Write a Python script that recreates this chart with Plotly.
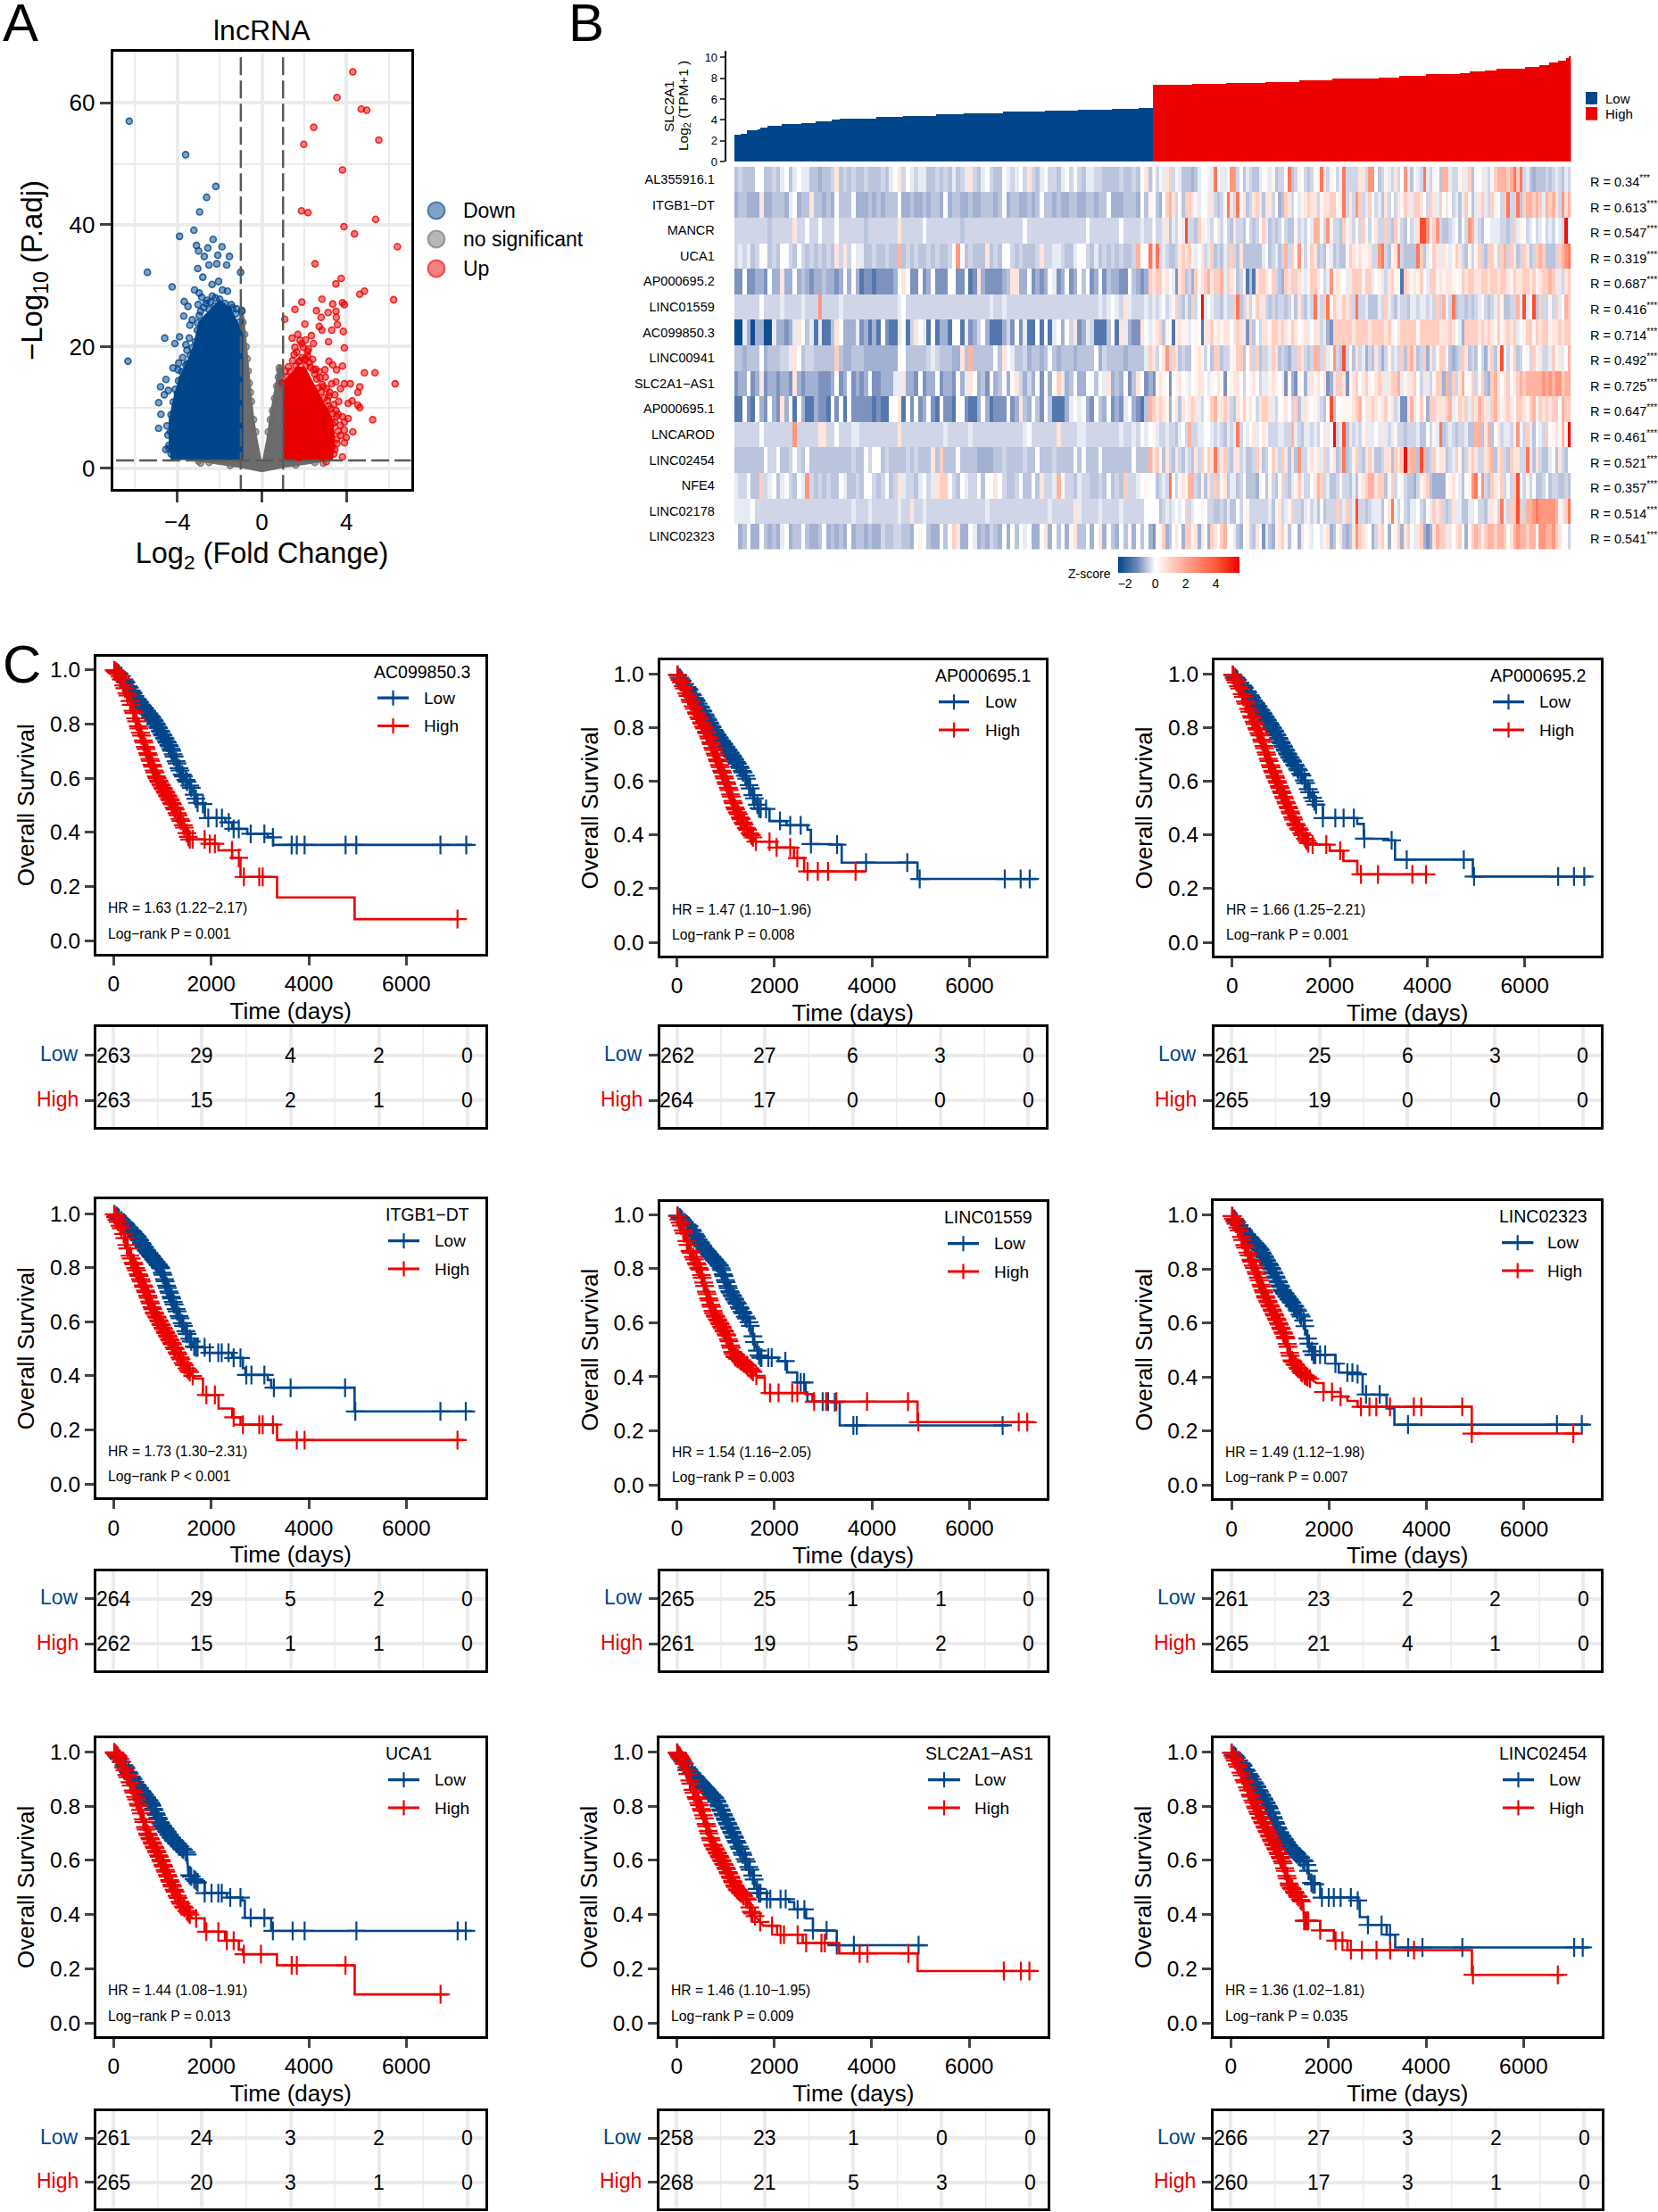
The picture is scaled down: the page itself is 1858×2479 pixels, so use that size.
import numpy as np
import plotly.graph_objects as go

W, H = 1858, 2479
FONT = "Liberation Sans"
NAVY, RED = "#00468B", "#ED0000"
GRID = "#ebebeb"


def X(p):
    return p / W


def Y(p):
    return 1 - p / H


# ---------- Panel A: volcano ----------
down_x = [-6.28, -3.61, -2.18, -2.62, -2.95, -3.22, -3.9, -2.31, -3.1, -2.56, -1.89, -3.0, -2.09, -2.73, -1.54, -5.42, -1.01, -2.51, -2.14, -1.67, -3.04, -2.8, -4.25, -2.05, -2.36, -3.19, -2.97, -1.87, -1.63, -2.6, -3.68, -3.5, -3.02, -1.39, -3.7, -3.41, -4.6, -3.9, -4.12, -3.44, -6.34, -3.94, -4.21, -3.53, -4.54, -4.8, -4.43, -4.62, -4.89, -4.78, -4.89, -4.4,
          -4.07, -4.2, -4.34, -3.97, -4.07, -3.79, -3.97, -3.64, -3.33, -3.15, -3.24, -2.97, -3.06, -2.78, -2.6, -2.97, -2.51, -2.23, -1.87, -1.59, -1.23, -0.95, -1.32, -1.14, -1.41, -1.69, -4.16, -3.97, -4.12, -4.25,
          -4.45, -4.5, -4.3, -4.2, -4.1, -3.95, -3.8, -3.6, -3.4, -3.3, -3.15, -3.05, -2.9, -2.75, -2.45, -2.2, -2.0, -1.75, -1.45, -1.2, -1.05, -3.55, -3.75, -4.0, -4.4, -4.3, -4.55, -2.65, -2.35, -2.85, -3.3, -3.6]
down_y = [57.0, 51.5, 46.3, 44.5, 42.1, 39.1, 38.1, 37.6, 36.6, 36.2, 36.4, 35.7, 35.0, 34.8, 34.8, 32.2, 32.2, 33.4, 33.6, 33.4, 32.8, 31.4, 29.8, 30.7, 30.2, 29.3, 28.8, 29.3, 29.1, 27.6, 27.4, 26.6, 26.9, 26.4, 25.0, 23.5, 21.4, 21.6, 20.5, 21.4, 17.6, 17.3, 16.5, 17.2, 14.6, 13.4, 12.8, 12.1, 10.8, 8.9, 6.6, 3.3,
          7.9, 5.4, 6.0, 11.6, 10.4, 14.7, 16.2, 15.3, 15.9, 17.4, 19.0, 21.1, 22.7, 23.6, 24.8, 25.1, 26.1, 26.7, 26.7, 26.1, 25.4, 25.8, 22.7, 21.4, 23.9, 24.8, 2.0, 2.6, 4.2, 7.0,
          5.5, 7.0, 8.8, 10.9, 13.0, 14.4, 15.9, 17.0, 18.6, 19.8, 20.8, 23.9, 25.8, 26.4, 27.3, 28.0, 27.8, 27.1, 26.9, 26.2, 24.1, 19.4, 18.2, 12.3, 3.8, 2.4, 3.1, 27.1, 28.3, 28.1, 24.4, 20.3]
up_x = [4.3, 3.55, 4.7, 4.96, 2.45, 5.53, 1.98, 3.81, 1.87, 2.18, 5.38, 3.88, 4.38, 6.41, 2.51, 3.75, 3.5, 4.85, 4.63, 6.23, 1.89, 2.84, 3.35, 3.81, 3.9, 1.56, 2.58, 3.5, 3.13, 2.8, 1.08, 3.52, 2.03, 2.71, 3.57, 3.3, 3.85, 2.84, 3.15, 3.9, 2.16, 4.85, 5.35, 6.3, 5.24,
        1.43, 1.7, 1.8, 1.56, 1.89, 2.07, 2.34, 2.44, 1.52, 1.8, 2.07, 2.25, 1.34, 1.7, 2.07, 2.44, 2.71, 3.17, 3.35, 3.53, 3.81, 2.98, 3.5, 3.9, 4.18, 3.72, 4.63, 4.54, 4.27, 4.08, 4.54, 4.63, 3.63, 3.17, 2.89, 3.53, 3.81, 4.08, 3.35, 3.9, 4.3, 3.9, 3.72, 3.53, 3.99, 3.9, 3.81, 3.35, 3.04, 2.25, 1.89, 1.25, 0.97,
        1.1, 1.2, 1.35, 1.5, 1.6, 1.75, 1.9, 2.0, 2.15, 2.3, 2.5, 2.6, 2.75, 2.85, 3.0, 3.05, 3.2, 3.3, 3.4, 3.45, 3.1, 3.25, 3.5, 3.6, 3.7, 3.35, 3.15, 2.95, 2.8, 2.65, 2.55, 2.2, 1.65, 1.45, 1.95, 2.4, 1.25, 3.6, 3.45, 3.55, 3.45, 3.4, 3.2]
up_y = [65.1, 60.9, 59.0, 58.8, 56.0, 53.9, 53.2, 49.0, 42.3, 42.0, 40.9, 39.7, 38.5, 36.4, 33.6, 31.2, 30.3, 29.1, 28.6, 27.7, 27.3, 27.8, 27.0, 27.2, 26.9, 26.1, 25.9, 25.8, 25.6, 24.8, 24.5, 24.8, 23.7, 23.3, 23.6, 22.7, 22.5, 22.7, 20.8, 19.8, 19.2, 15.7, 15.7, 13.9, 8.0,
        21.4, 22.0, 21.0, 19.9, 20.5, 21.1, 21.8, 20.5, 18.7, 17.7, 18.0, 17.4, 15.9, 16.2, 16.8, 16.2, 15.9, 17.6, 17.0, 16.2, 16.8, 16.2, 14.2, 13.9, 13.9, 13.1, 13.4, 12.5, 11.1, 10.7, 10.4, 10.0, 11.0, 11.9, 13.4, 8.5, 8.5, 8.2, 7.3, 7.6, 6.0, 6.3, 5.4, 4.8, 5.1, 4.2, 1.9, 3.6, 1.1, 14.0, 14.0, 14.0, 14.0,
        16.0, 15.0, 14.5, 15.0, 16.8, 17.5, 18.2, 17.9, 18.5, 16.6, 15.5, 14.7, 14.9, 13.8, 15.0, 13.1, 12.5, 13.9, 10.5, 12.1, 11.2, 9.8, 9.5, 8.9, 7.1, 9.0, 10.2, 11.6, 12.6, 13.2, 16.3, 19.6, 19.1, 17.7, 19.9, 17.9, 16.7, 6.1, 7.6, 4.1, 3.1, 2.4, 2.0]
ns_x = [-0.95, -0.9, -0.82, -0.75, -0.7, -0.65, -0.6, -0.55, -0.5, -0.4, -0.3, 0.3, 0.4, 0.5, 0.6, 0.7, 0.78, 0.82, 0.85, -3.0, -2.5, -2.9, 2.9, 2.5, -1.5, 1.6]
ns_y = [26.0, 24.0, 22.0, 20.0, 18.0, 16.0, 14.0, 12.5, 11.0, 8.0, 6.0, 6.0, 8.0, 9.5, 11.5, 13.5, 15.0, 16.5, 16.0, 1.2, 1.0, 0.9, 0.9, 1.0, 0.5, 0.6]
# dense cores of the three clouds, outlined where single points can't be told apart
down_core_x = [-4.25, -4.35, -4.35, -4.1, -3.85, -3.5, -3.2, -2.95, -2.4, -2.0, -1.5, -1.2, -0.95, -0.95]
down_core_y = [1.4, 4.0, 8.0, 12.0, 15.0, 17.5, 20.0, 24.0, 26.0, 27.5, 26.0, 24.0, 22.0, 1.4]
up_core_x = [1.0, 3.3, 3.4, 3.3, 3.0, 2.7, 2.4, 2.0, 1.7, 1.3, 1.0]
up_core_y = [1.4, 1.5, 5.0, 8.0, 10.0, 12.0, 14.0, 16.5, 16.5, 15.0, 14.0]
ns_core_x = [-1, -1, -0.9, -0.78, -0.68, -0.55, -0.42, -0.28, -0.12, -0.05, 0.05, 0.12, 0.28, 0.42, 0.6, 0.75, 0.85, 1, 1, 3, 2, 1, 0, -1, -2, -3, -1]
ns_core_y = [1.3, 26, 25, 21, 17, 12, 8, 5, 2.2, 0.8, 0.8, 2.2, 5, 8.5, 12, 15.5, 17, 14, 1.3, 1.3, 0.8, 0.3, -0.4, 0.3, 0.8, 1.3, 1.3]

# ---------- Panel B: expression bars ----------
low_rank = [0, 4, 8, 15, 16, 21, 30, 42, 51, 61, 66, 89, 106, 127, 144, 169, 195, 216, 237, 254, 263]
low_expr = [2.5, 2.6, 3.0, 3.07, 3.25, 3.4, 3.55, 3.65, 3.8, 3.97, 4.1, 4.25, 4.37, 4.47, 4.62, 4.77, 4.84, 4.9, 5.0, 5.08, 5.15]
high_rank = [263, 271, 288, 309, 334, 355, 376, 405, 418, 435, 456, 462, 472, 479, 497, 506, 512, 518, 523, 525, 526]
high_expr = [7.3, 7.37, 7.44, 7.55, 7.62, 7.76, 7.9, 8.05, 8.23, 8.34, 8.45, 8.6, 8.74, 8.88, 9.06, 9.25, 9.46, 9.68, 9.93, 10.1]

# ---------- Panel B: heatmap, one letter per sample bin ----------
genes = ["AL355916.1", "ITGB1\u2212DT", "MANCR", "UCA1", "AP000695.2", "LINC01559", "AC099850.3", "LINC00941", "SLC2A1\u2212AS1", "AP000695.1", "LNCAROD", "LINC02454", "NFE4", "LINC02178", "LINC02323"]
r_values = ["0.34", "0.613", "0.547", "0.319", "0.687", "0.416", "0.714", "0.492", "0.725", "0.647", "0.461", "0.521", "0.357", "0.514", "0.541"]
z_levels = dict(A=-2.3, B=-1.5, C=-1.08, D=-0.78, E=-0.58, F=-0.4, G=-0.2, H=0, I=0.25, J=0.6, K=1.1, L=1.7, M=2.4, N=3.2, O=4.2, P=5.3)

heat_low = [
    "EFEEEHHEEF EGHEGHGGEE DEEFJEFEFE EFEEEFEGHJ FHGFGGEEFE FEGEFGJFEG HFEEHGFGHF JFEGHFFEGH FHFEGGFFEE EEFEEFEHJE",
    "DEEDDDJDDE EEDGHDEEJE EDEDHEEEHD DDEDEDEEEH DDEDDEDEED HDEEDDEDDE EEDEHDEEDD EDEHEEDEDD EEDDEEDEEH DDDEEEDHEI",
    "FFFFFFFFEF FFFFJFFHFF HFFFHFFFFF FEFFFFFFFJ FFFFFHFFFF FFFFEFFFFF FFFFFFFFFH FFFFFFFFFF FFFFHFFFFF FFHFFFFGFF",
    "FGFGEFHHEF EHHFEHFEFE FEFEJFJFHG GEEFEEFEEL EFEFEEFEFE EFHMHEFEEE JEFEHHFEFE EEFJFFGGFE EGHHFEGEFE FEFEEFLHHN",
    "CCHCCDDCHD DJDDHDEDCD DEDDCDHDHD BCCBCCCCDH JHCCHCDHCC CHHCCHBCJD CCCCDEJJDD HCDCDHGCDH CDHEHCDHCE DDCCHEDCDK",
    "FFFFFFHFFF FGFFFFGFFF MFFFFGFFFF FFFFFFFFFG HFFFFFFFFF FFFFFFFFFF FGFFGFFFFF FFFFFFFFFF FFFFFFFGFG HGFJGFFFGF",
    "AAGDADDAAG DDCDGJHEGB GBBEJHDDDG CDBDBHCBBG HBFJHGBHBD DBHHBGCDFH DBBBDFCHCG BBHBHBGHDH FJCDGFBBBE HBJGDCCJHG",
    "EEDEEEHDEE EFFGJHEFFE EEEEKEDDEE EDDDDDDDDH HEEEEEFGFE EEDDJELEEE EEHEJHGEEF DEEDEHEDEE EDEEEEHDFE EEEDEEEEGK",
    "CDDHCDJCDD CDDCJDCDDD CCCDHCDHCD CDHCCDDDGG JDDCHCDDHC DDCHDGJHDE CHDEHDHJFD FDHCHDHKGD EHDDHHEHGJ DEDHCEJHCD",
    "BBHCBHDCHD CJDHBHDBBD CCBHCHBHCC CCCBCBBHHJ BHCHCDHCBH CCBHHCBBDH DBCCCHCDJE DHECHEBBBD GHGHDCHEDH CDCGHDCBEL",
    "FFFFFFHFFF FFFFMFFFFF JJFFHFFFGG FFFFFFFFFJ FFFFFFFFFF GFFFFFGFFF FFFFFFFFFG HFFFFFFJFF FFGGFFFFFF FFGFFGFHGH",
    "EEEEEEEHFF HEEFHFEHEE EEEEEEEEFE EHFHHEFEEE EFEFEEEJEK EEEHEEEEDD DDEEFEEEEF EEHEEEFEEE EHEHEEEHEE EEEEEHEEEL",
    "GFFHEEKFGH EGHFEHGMFE FEFEEHGEEF EHHFEFHEFJ GFFEGHFGJK KHFEHGFFHE HHJHFEEFHE EHEJFFGLHF FEGFFEEFEH EFEKFFGHIH",
    "GGGGHFFFFF FFFFFFFFFF FFFFFFFFGF FFGFFFFFFG FFJFFGFFFF FFFFFFFFFF GFFFFFFFFF FFFFFGFFFF FJGFFFFGFF FFGFFFFFHH",
    "HDEHDDHEDE DGHDEEHEDD EHDEDEDHDE EDEDDFEEFF EEDHIHEDDH EHKJDDHGDE DFEDHDHEHG HDDHJDHEHD IJEEHDHJDH EDHEIDHEHD",
]
heat_high = [
    "HFIGJKFIGE EEDEGHHIGN HGGIMMFHEG FEEGHIGIEF FHNEFIHFEF HINJFIHFIN FFFFJJFMMH EFIGFJFHMG EIGFNGFIHE LLGFFIJGKE IHJGFIKLLL KLNKNFGEDE EEFEFGFEGF",
    "HEDHKLJFHE KKJIGHHGJF EFINJFNIJE FJKGEJJFHD EKJFHGIJKJ JFIJJKKIIN FJFMKFGKHF GEJFHFJIKJ GKKJHFKJGK HJHFGEGKIE GJKGFKIHFK NFFNEKLLKL KGLKLJFMJL",
    "HFFGJEGFIG OFFEKIIGFH JFHFEJFFEH FEFHKGEFEF HFEEIFGFHG LLHFMIFFEK IJFHFKHFHJ FFKFEKIFEH FGJOOMGKMF EEFGHEHFML GFEHHGGGFF EFKGIHFGHF GHFGFHGFPH",
    "GNFGFEEFJK JKIGHJFGKE FEGFKFEJEE EEEEGHEFGE FLFKIMIFHK JEFEIGEFEE IKJIJIIJFF MNFEIJNFEE EENKEGHKJG JIGIKJFEIF IKFEKKIFKL FKJEFKJEFK LKEEEFKLMN",
    "JKKIJHGCJK EFDKIJKLJK KLGKJIEFIB EBJKKJIKFE DKJKKJIGIK KJHFGMIJIH GJKKKIKKGH IGFJKIHBKJ IJIKHGKKIJ IJJIHIKJKK JJKKJKKJKK JIKJJKKJKI JKKLKJGFJK",
    "GFGHFGIKFE GEKFHPGHGF FEGFFKNEFJ FIKGJFEFEF FEFIEJFEGF NGFKNIKJIK JKFNFFGEEE GFKGFEGFFE GGFGGFGFKF LIFNEFFEFE FGIFEFGKIE EFFLGOGHOE KFFIFKGHLK",
    "IJKEIHBIJI IGHIHBJJKI JIJJHGKJGC KEHFJJIKKJ KJIKJHIJGH JJFGDCKKKK KKJKKKKJKK KKJKIHJKKK KKIKKKKKKJ JJKJHGDKKK KJKJKJIKIJ KJKGHIKKIK JKKIJJKJKK",
    "JFHJMFKJEF EEHIJIFHEK KEFFIIKKEH KFKEFFGKJE FEDFFKJFEF LLFKGIMFEO FIEJFGDFEJ FDFIFGFKEK LJEFKDJFIK KIEDEFKJEF EHFDGKEIOH FIKEFHIFKI JFFGKHJGHL",
    "CIJIHCHIJH IGHIJJHGIH JHCHIJJHFH IJHFGGIJIH JCHDCIHDGJ IJHJCDJKKJ CIJKHJKIHJ KJGJKKLGIJ JKHFJGFIKK DLEKFJLHIK FIKEDKLJHJ KHJKLKLLLL LMLMLMMKLL",
    "KJKJIDHJEJ HJKJGFHIKL IJKJFEJIKI JHFJKKJGFH IJHFKEGJIH IGFEHOEHHI IIJKLHJJKJ IGKIJFGCCJ LJHKHDKKJJ JKLGIKJKGK JLKJGKLJIJ KJHKKJIKLI KJKJKKHLKK",
    "IGFFGFFEGH FLFFGGHHGF GFEGFGNFHG HJGHJIFFFG GFFLGFEGGF GFHJGIPFGO EJFGFIJGGH GJGFGIFFEF FFGEEHFIGN EFGFEFFGEE LLEJLEHJFG GFIMHFKGEH GFKHIJHLIP",
    "JKIEJFEJFE GFEJFKIKJN FJKFEJJFGE EFKIEFHKGF KJEJEMFFIJ IJGKFIJEFN EFIKFEJKGE EFJJEKJKPK LLEOLEFKIJ JEFGKIEFJK JFFJKLEJKF EKJJFFNGEJ FEEGHEJFEH",
    "HEFGFNHFIJ ILLFEIEJFK FIJEGGEFHE EEDIHEIFEH KFEGIKIFFH JLKFGEEFIF FEGEIJKLLJ KKEIKFHIFE EDFIJKEDDD DHIJHGEHIM NIMFEKJIKF IFKOHFIFHE EFHEFFEEFE",
    "HHEFGFGHGH KFGHHIHFFE EFEGEEHFHI FFFFFFGEIJ FGIKFFEGIF GEHEFFFKFG KFGOFFEFGG GEHJNIFHFE GGHFEHGKJK FEFJGGEEGG HFFEGJIFNG FKKOKFLLMN MMMMMLIGKN",
    "CHIKDEHJHD KKIJDJHDKJ HKLHHGEDHI FEJHCGEDIJ KIEIHDJHIG HHGIJDEHJE DEJMKJIHDF JKHDHIKDJK HGJKDCDJLK KGJHJKHDIK LKIKLLKLLK HJLMLLKLLH MMLLMKJHHF",
]

# ---------- Panel C: Kaplan-Meier curves (days, survival) ----------
censor_low_early = [20, 60, 85, 110, 160, 210, 235, 250, 300, 320, 360, 380, 400, 435, 470, 490, 520, 535, 570, 590, 620, 635, 665, 680, 710, 725, 755, 770, 785, 815, 830, 860, 875, 905, 920, 950, 965, 995, 1010, 1040, 1055, 1085, 1100, 1130, 1145, 1175, 1190, 1220, 1240, 1280, 1300, 1340, 1360, 1405, 1430, 1480, 1505, 1560, 1590, 1650, 1685, 1720]
censor_high_early = [10, 40, 65, 90, 130, 155, 205, 230, 270, 290, 335, 360, 400, 415, 450, 470, 505, 520, 550, 570, 605, 620, 650, 665, 695, 710, 740, 755, 785, 800, 830, 845, 875, 890, 920, 935, 965, 980, 1010, 1025, 1055, 1070, 1100, 1115, 1145, 1160, 1190, 1205, 1240, 1260, 1300, 1320, 1360, 1380, 1425, 1450, 1500, 1530, 1560]

ac099_low_t = [0, 150, 470, 820, 1170, 1380, 1590, 1730, 1870, 2290, 2430, 2740, 3160, 3270, 7350]
ac099_low_s = [1, 0.98, 0.894, 0.815, 0.71, 0.62, 0.565, 0.505, 0.453, 0.437, 0.413, 0.395, 0.382, 0.354, 0.354]
ac099_high_t = [0, 120, 330, 470, 680, 890, 1170, 1380, 1480, 1550, 1870, 2150, 2430, 2600, 3350, 4940, 7080]
ac099_high_s = [1, 0.98, 0.888, 0.81, 0.7, 0.6, 0.516, 0.443, 0.407, 0.374, 0.358, 0.334, 0.306, 0.236, 0.16, 0.08, 0.08]
ac099_low_c = [1830, 1940, 2110, 2220, 2360, 2460, 2565, 2810, 3090, 3265, 3650, 3755, 3915, 4755, 4975, 6700, 7230]
ac099_high_c = [1620, 1865, 1970, 2075, 2425, 2565, 2670, 2985, 3055, 7050]

ap1_low_t = [0, 210, 490, 775, 1130, 1410, 1550, 1690, 1900, 2250, 2680, 2750, 3170, 3380, 4935, 7370]
ap1_low_s = [1, 0.951, 0.874, 0.785, 0.696, 0.619, 0.552, 0.497, 0.452, 0.436, 0.419, 0.366, 0.364, 0.297, 0.236, 0.236]
ap1_high_t = [0, 140, 350, 635, 846, 1058, 1200, 1410, 1620, 2045, 2400, 2610, 3880]
ap1_high_s = [1, 0.951, 0.874, 0.774, 0.674, 0.574, 0.497, 0.43, 0.375, 0.353, 0.314, 0.264, 0.264]
ap1_low_c = [1830, 2115, 2325, 2540, 2750, 3285, 3880, 4725, 4980, 6725, 7050, 7235]
ap1_high_c = [1620, 1900, 2045, 2325, 2470, 2680, 2890, 3100, 3665]

ap2_low_t = [0, 240, 590, 875, 1156, 1440, 1580, 1720, 1860, 2565, 2700, 3200, 3340, 4935, 7360]
ap2_low_s = [1, 0.951, 0.863, 0.785, 0.696, 0.619, 0.563, 0.513, 0.463, 0.441, 0.386, 0.38, 0.308, 0.245, 0.245]
ap2_high_t = [0, 170, 380, 590, 800, 1085, 1300, 1580, 2000, 2280, 2566, 4020]
ap2_high_s = [1, 0.94, 0.851, 0.763, 0.652, 0.53, 0.441, 0.364, 0.341, 0.303, 0.253, 0.253]
ap2_low_c = [1860, 2115, 2285, 2495, 2710, 3270, 3580, 4750, 4960, 6685, 7010, 7220]
ap2_high_c = [1650, 1930, 2215, 2640, 2990, 3695, 3975]

itgb_low_t = [0, 190, 470, 680, 960, 1100, 1240, 1380, 1520, 1660, 1870, 2430, 2650, 2700, 3160, 3230, 4940, 7350]
itgb_low_s = [1, 0.97, 0.917, 0.862, 0.8, 0.725, 0.664, 0.604, 0.549, 0.505, 0.485, 0.466, 0.428, 0.403, 0.384, 0.356, 0.268, 0.268]
itgb_high_t = [0, 190, 330, 470, 680, 820, 1030, 1240, 1450, 1660, 1830, 2150, 2430, 2600, 3350, 7180]
itgb_high_s = [1, 0.934, 0.846, 0.79, 0.703, 0.637, 0.571, 0.505, 0.439, 0.39, 0.329, 0.279, 0.246, 0.219, 0.162, 0.162]
itgb_low_c = [1865, 1970, 2145, 2215, 2355, 2460, 2600, 2720, 2825, 3090, 3285, 3628, 4745, 4955, 6700, 7220]
itgb_high_c = [1620, 1900, 2075, 2460, 2650, 2985, 3055, 3265, 3755, 3915, 7050]

l1559_low_t = [0, 265, 545, 895, 1070, 1314, 1490, 1594, 1700, 2083, 2258, 2468, 2640, 2677, 3166, 3340, 6800]
l1559_low_s = [1, 0.954, 0.88, 0.807, 0.721, 0.648, 0.599, 0.526, 0.471, 0.458, 0.416, 0.379, 0.342, 0.308, 0.306, 0.22, 0.22]
l1559_high_t = [0, 160, 265, 475, 615, 755, 1035, 1174, 1454, 1664, 1803, 2642, 2780, 4935, 7325]
l1559_high_s = [1, 0.929, 0.868, 0.795, 0.709, 0.636, 0.55, 0.477, 0.44, 0.397, 0.34, 0.336, 0.308, 0.232, 0.232]
l1559_low_c = [1735, 1875, 1945, 2225, 2540, 2610, 2990, 3100, 3240, 3620, 3690, 6680]
l1559_high_c = [1630, 1910, 2085, 2365, 2470, 2815, 3060, 3270, 3900, 4740, 4950, 7010, 7185]

l2323_low_t = [0, 280, 560, 840, 1050, 1330, 1480, 1573, 1678, 2132, 2200, 2586, 2690, 3145, 3180, 3341, 7325]
l2323_low_s = [1, 0.934, 0.879, 0.796, 0.719, 0.653, 0.609, 0.531, 0.482, 0.449, 0.416, 0.41, 0.335, 0.333, 0.283, 0.223, 0.223]
l2323_high_t = [0, 140, 280, 490, 700, 910, 1118, 1223, 1468, 1747, 1887, 2237, 2377, 2586, 4928, 7130]
l2323_high_s = [1, 0.95, 0.884, 0.796, 0.697, 0.62, 0.542, 0.465, 0.41, 0.377, 0.344, 0.327, 0.311, 0.289, 0.19, 0.19]
l2323_low_c = [1817, 1922, 2132, 2377, 2480, 2586, 2760, 3040, 3620, 6675, 7185]
l2323_high_c = [1608, 1887, 2062, 2237, 2656, 2830, 2970, 3250, 3740, 3893, 4732, 4928, 7010]

uca_low_t = [0, 190, 470, 750, 960, 1237, 1503, 1530, 1726, 1866, 2320, 2635, 2690, 3160, 3230, 7350]
uca_low_s = [1, 0.956, 0.879, 0.814, 0.737, 0.671, 0.627, 0.55, 0.518, 0.479, 0.463, 0.452, 0.388, 0.386, 0.34, 0.34]
uca_high_t = [0, 120, 330, 540, 680, 958, 1167, 1377, 1622, 1866, 2286, 2565, 2650, 3348, 4942, 6843]
uca_high_s = [1, 0.978, 0.89, 0.792, 0.704, 0.605, 0.518, 0.441, 0.386, 0.337, 0.304, 0.271, 0.254, 0.213, 0.106, 0.106]
uca_low_c = [1866, 2006, 2146, 2216, 2390, 2600, 2810, 3090, 3265, 3670, 3915, 4977, 7053, 7220]
uca_high_c = [1690, 1900, 2146, 2320, 2460, 2670, 3020, 3650, 3755, 4753, 6703]

slc_low_t = [0, 245, 524, 804, 1013, 1223, 1433, 1573, 1678, 1852, 2307, 2412, 2656, 2796, 3180, 3285, 5103]
slc_low_s = [1, 0.934, 0.879, 0.825, 0.748, 0.671, 0.594, 0.539, 0.479, 0.457, 0.446, 0.419, 0.386, 0.342, 0.34, 0.287, 0.287]
slc_high_t = [0, 175, 315, 524, 734, 1013, 1223, 1468, 1517, 1782, 2062, 2586, 3334, 4942, 7375]
slc_high_s = [1, 0.951, 0.868, 0.781, 0.66, 0.572, 0.496, 0.452, 0.413, 0.359, 0.326, 0.295, 0.257, 0.192, 0.192]
slc_low_c = [1852, 1922, 2132, 2237, 2482, 2621, 2796, 3076, 3285, 3635, 4963]
slc_high_c = [1608, 1713, 1957, 2132, 2202, 2482, 2656, 2970, 3040, 3754, 3914, 4753, 6710, 7060, 7235]

l2454_low_t = [0, 224, 503, 783, 993, 1202, 1552, 1657, 1831, 2600, 2642, 2810, 3194, 3369, 7354]
l2454_low_s = [1, 0.956, 0.879, 0.792, 0.704, 0.649, 0.589, 0.512, 0.463, 0.452, 0.391, 0.362, 0.326, 0.279, 0.279]
l2454_high_t = [0, 154, 363, 573, 783, 1062, 1202, 1482, 1496, 1831, 2110, 2390, 4942, 6829]
l2454_high_s = [1, 0.945, 0.857, 0.77, 0.693, 0.594, 0.507, 0.441, 0.377, 0.342, 0.304, 0.269, 0.178, 0.178]
l2454_low_c = [1866, 2006, 2110, 2250, 2460, 2600, 2810, 3090, 3264, 3635, 3928, 4746, 7039, 7214]
l2454_high_c = [1587, 1831, 2146, 2286, 2460, 2684, 2985, 3264, 3754, 4963, 6703]

risk_times = [0, 1, 2, 3, 4]
panels = [
    dict(gene="AC099850.3", hr="HR = 1.63 (1.22\u22122.17)", p="Log\u2212rank P = 0.001", low=(ac099_low_t, ac099_low_s, ac099_low_c), high=(ac099_high_t, ac099_high_s, ac099_high_c), risk=([263, 29, 4, 2, 0], [263, 15, 2, 1, 0])),
    dict(gene="AP000695.1", hr="HR = 1.47 (1.10\u22121.96)", p="Log\u2212rank P = 0.008", low=(ap1_low_t, ap1_low_s, ap1_low_c), high=(ap1_high_t, ap1_high_s, ap1_high_c), risk=([262, 27, 6, 3, 0], [264, 17, 0, 0, 0])),
    dict(gene="AP000695.2", hr="HR = 1.66 (1.25\u22122.21)", p="Log\u2212rank P = 0.001", low=(ap2_low_t, ap2_low_s, ap2_low_c), high=(ap2_high_t, ap2_high_s, ap2_high_c), risk=([261, 25, 6, 3, 0], [265, 19, 0, 0, 0])),
    dict(gene="ITGB1\u2212DT", hr="HR = 1.73 (1.30\u22122.31)", p="Log\u2212rank P < 0.001", low=(itgb_low_t, itgb_low_s, itgb_low_c), high=(itgb_high_t, itgb_high_s, itgb_high_c), risk=([264, 29, 5, 2, 0], [262, 15, 1, 1, 0])),
    dict(gene="LINC01559", hr="HR = 1.54 (1.16\u22122.05)", p="Log\u2212rank P = 0.003", low=(l1559_low_t, l1559_low_s, l1559_low_c), high=(l1559_high_t, l1559_high_s, l1559_high_c), risk=([265, 25, 1, 1, 0], [261, 19, 5, 2, 0])),
    dict(gene="LINC02323", hr="HR = 1.49 (1.12\u22121.98)", p="Log\u2212rank P = 0.007", low=(l2323_low_t, l2323_low_s, l2323_low_c), high=(l2323_high_t, l2323_high_s, l2323_high_c), risk=([261, 23, 2, 2, 0], [265, 21, 4, 1, 0])),
    dict(gene="UCA1", hr="HR = 1.44 (1.08\u22121.91)", p="Log\u2212rank P = 0.013", low=(uca_low_t, uca_low_s, uca_low_c), high=(uca_high_t, uca_high_s, uca_high_c), risk=([261, 24, 3, 2, 0], [265, 20, 3, 1, 0])),
    dict(gene="SLC2A1\u2212AS1", hr="HR = 1.46 (1.10\u22121.95)", p="Log\u2212rank P = 0.009", low=(slc_low_t, slc_low_s, slc_low_c), high=(slc_high_t, slc_high_s, slc_high_c), risk=([258, 23, 1, 0, 0], [268, 21, 5, 3, 0])),
    dict(gene="LINC02454", hr="HR = 1.36 (1.02\u22121.81)", p="Log\u2212rank P = 0.035", low=(l2454_low_t, l2454_low_s, l2454_low_c), high=(l2454_high_t, l2454_high_s, l2454_high_c), risk=([266, 27, 3, 2, 0], [260, 17, 3, 1, 0])),
]
# layout in page pixels: box left, box right, x of t=0, box top, box bottom, y of S=1, y of S=0,
# risk box top, risk bottom, legend title left, legend line left, legend line right, legend text left
geom = [
    (108, 543.5, 127.4, 735.5, 1069, 750.7, 1054.4, 1151.4, 1263, 418, 423, 458, 474),
    (739.5, 1172, 758.5, 740, 1071, 755.3, 1056, 1151.4, 1263, 1047, 1052, 1086, 1103),
    (1361, 1793.5, 1380.8, 740, 1071, 755.3, 1056, 1151.4, 1263, 1669, 1673, 1708, 1724),
    (108, 543.5, 127.4, 1344, 1678.3, 1360, 1663, 1760.5, 1872, 430.5, 435, 470, 486),
    (739.5, 1172.6, 758.5, 1347, 1678.5, 1361.4, 1664, 1760.5, 1872, 1057.4, 1062, 1097, 1112.5),
    (1360.2, 1794.2, 1380, 1346, 1679.3, 1361.7, 1664, 1760.5, 1872, 1678.6, 1683, 1718.4, 1733.4),
    (108, 543.5, 127.4, 1948, 2281.7, 1963.3, 2267.3, 2365.6, 2474.7, 430.5, 435, 470, 486),
    (738.7, 1174, 758.2, 1948, 2281.7, 1963.3, 2267.3, 2365.6, 2474.7, 1035.7, 1040, 1076, 1091),
    (1359.8, 1795, 1379.4, 1948, 2281.7, 1963.3, 2267.3, 2365.6, 2474.7, 1679.4, 1684, 1719, 1734.5),
]

fig = go.Figure()
layout = dict(
    width=W, height=H, margin=dict(l=0, r=0, t=0, b=0, pad=0), autosize=False,
    paper_bgcolor="white", plot_bgcolor="white", showlegend=False,
    font=dict(family=FONT, color="black", size=14),
)
annotations, shapes = [], []


def text(x, y, s, size, anchor="left", color="black", angle=0, v="middle"):
    annotations.append(dict(x=X(x), y=Y(y), xref="paper", yref="paper", text=s, showarrow=False,
                            font=dict(size=size, color=color, family=FONT), xanchor=anchor, yanchor=v,
                            textangle=angle, borderpad=0))


# ---------- draw panel A ----------
def cloud(core_x, core_y, core_col, px, py, rgb):
    fig.add_trace(go.Scatter(x=core_x, y=core_y, mode="lines", fill="toself", fillcolor=core_col,
                             line=dict(color=core_col, width=3), hoverinfo="skip"))
    fig.add_trace(go.Scatter(x=px, y=py, mode="markers",
                             marker=dict(size=7, color=f"rgba({rgb},0.5)", line=dict(color=f"rgba({rgb},0.8)", width=1.6))))


cloud(ns_core_x, ns_core_y, "#6c6c6c", ns_x, ns_y, "105,105,105")
cloud(down_core_x, down_core_y, NAVY, down_x, down_y, "0,70,139")
cloud(up_core_x, up_core_y, "#E80000", up_x, up_y, "237,0,0")
for vx in (-1, 1):
    fig.add_trace(go.Scatter(x=[vx, vx], y=[-4, 70], mode="lines", line=dict(color="#5a5a5a", width=2.5, dash="20px,6px"), hoverinfo="skip"))
fig.add_trace(go.Scatter(x=[-8, 8], y=[1.3, 1.3], mode="lines", line=dict(color="#5a5a5a", width=2.5, dash="20px,6px"), hoverinfo="skip"))
layout["xaxis"] = dict(domain=[X(126.6), X(460.5)], range=[-7.05, 7.05], tickvals=[-4, 0, 4], ticktext=["\u22124", "0", "4"],
                       showgrid=True, gridcolor=GRID, gridwidth=3.5, zeroline=False, ticks="outside", ticklen=12, tickwidth=3,
                       tickfont=dict(size=26), showline=True, linecolor="black", linewidth=3, mirror=True,
                       minor=dict(tickvals=[-6, -2, 2, 6], showgrid=True, gridcolor=GRID, gridwidth=1.5, ticks=""),
                       title=dict(text="Log<sub>2</sub> (Fold Change)", font=dict(size=32.5), standoff=10), anchor="y", automargin=False)
layout["yaxis"] = dict(domain=[Y(548), Y(58)], range=[-3.37, 68.4], tickvals=[0, 20, 40, 60],
                       showgrid=True, gridcolor=GRID, gridwidth=3.5, zeroline=False, ticks="outside", ticklen=12, tickwidth=3,
                       tickfont=dict(size=26), showline=True, linecolor="black", linewidth=3, mirror=True,
                       minor=dict(tickvals=[10, 30, 50], showgrid=True, gridcolor=GRID, gridwidth=1.5, ticks=""),
                       title=dict(text="\u2212Log<sub>10</sub> (P.adj)", font=dict(size=33), standoff=20), anchor="x", automargin=False)
text(293.6, 33.7, "lncRNA", 32, "center")
for ly, name, rgb in [(236, "Down", "0,70,139"), (268, "no significant", "110,110,110"), (301, "Up", "237,0,0")]:
    shapes.append(dict(type="circle", xref="paper", yref="paper", x0=X(479.5), x1=X(498.5), y0=Y(ly + 9.5), y1=Y(ly - 9.5),
                       fillcolor=f"rgba({rgb},0.5)", line=dict(color=f"rgba({rgb},0.6)", width=2)))
    text(518, ly, name, 23)

# ---------- draw panel B ----------
fig.add_trace(go.Bar(x=low_rank[:-1], y=low_expr[:-1], width=np.diff(low_rank).tolist(), offset=0, marker=dict(color=NAVY, line=dict(width=0)), xaxis="x2", yaxis="y2"))
fig.add_trace(go.Bar(x=high_rank[:-1], y=high_expr, width=np.diff(high_rank).tolist(), offset=0, marker=dict(color=RED, line=dict(width=0)), xaxis="x2", yaxis="y2"))
layout["bargap"] = 0
layout["xaxis2"] = dict(domain=[X(813.7), X(1760.4)], range=[-5.05, 526], visible=False, anchor="y2")
layout["yaxis2"] = dict(domain=[Y(181), Y(57.4)], range=[0, 10.6], tickvals=[0, 2, 4, 6, 8, 10], showgrid=False, zeroline=False,
                        ticks="outside", ticklen=5, tickwidth=1.5, tickfont=dict(size=13), showline=True, linecolor="black", linewidth=2,
                        anchor="x2", automargin=False)
text(749, 119, "SLC2A1", 15.5, "center", angle=-90)
text(766, 119, "Log<sub>2</sub> (TPM+1 )", 15.5, "center", angle=-90)

z_low = [[z_levels[c] for c in r.replace(" ", "")] for r in heat_low]
z_high = [[z_levels[c] for c in r.replace(" ", "")] for r in heat_high]
dx_low = 263 / len(z_low[0])
dx_high = 263 / len(z_high[0])
fig.add_trace(go.Heatmap(z=z_low, x0=dx_low / 2, dx=dx_low, y=list(range(15)), coloraxis="coloraxis", xaxis="x3", yaxis="y3"))
fig.add_trace(go.Heatmap(z=z_high, x0=263 + dx_high / 2, dx=dx_high, y=list(range(15)), coloraxis="coloraxis", xaxis="x3", yaxis="y3"))
cmin, cmax = -2.45, 5.55


def fr(v):
    return (v - cmin) / (cmax - cmin)


layout["coloraxis"] = dict(cmin=cmin, cmax=cmax,
                           colorscale=[[0, NAVY], [fr(-1.2), "#6f86b9"], [fr(-0.6), "#b8c2dc"], [fr(0), "#ffffff"],
                                       [fr(2), "#ffa58f"], [fr(4), "#ff5a36"], [1, RED]],
                           colorbar=dict(orientation="h", x=X(1253), xanchor="left", y=Y(623.7), yanchor="top", yref="paper",
                                         len=136, lenmode="pixels", thickness=17.5, thicknessmode="pixels", outlinewidth=0,
                                         xpad=0, ypad=0, tickvals=[-2, 0, 2, 4], ticktext=["\u22122", "0", "2", "4"], ticks="",
                                         tickfont=dict(size=14), ticklabelposition="outside bottom"))
layout["xaxis3"] = dict(domain=[X(822.7), X(1760.4)], range=[0, 526], visible=False, anchor="y3")
layout["yaxis3"] = dict(domain=[Y(615.7), Y(186.7)], range=[14.5, -0.5], tickvals=list(range(15)), ticktext=genes, showgrid=False, zeroline=False,
                        ticks="outside", ticklen=18, tickcolor="rgba(0,0,0,0)", tickfont=dict(size=14.5), showline=False, anchor="x3", automargin=False)
for i, r in enumerate(r_values):
    text(1780.7, 186.7 + 28.6 * (i + 0.5) + 2, f"R = {r}<sup>***</sup>", 14.5)
text(1246, 642.5, "Z-score", 14, "right")
for y0, y1, name, col in [(103, 117, "Low", NAVY), (120, 134.7, "High", RED)]:
    shapes.append(dict(type="rect", xref="paper", yref="paper", x0=X(1777), x1=X(1790), y0=Y(y1), y1=Y(y0), fillcolor=col, line=dict(width=0)))
    text(1798, (y0 + y1) / 2, name, 15)

text(2, 26, "A", 60)
text(636, 26, "B", 60)
text(2, 744, "C", 60)


# ---------- draw panel C ----------
def km_path(t, s, linear_until=1800):
    xs, ys = [t[0]], [s[0]]
    for i in range(1, len(t)):
        if t[i] > linear_until:
            xs.append(t[i])
            ys.append(s[i - 1])
        xs.append(t[i])
        ys.append(s[i])
    return xs, ys


mid_grid_x = [0.5, 0.5, None, 1.5, 1.5, None, 2.5, 2.5, None, 3.5, 3.5]
mid_grid_y = [0, 3, None, 0, 3, None, 0, 3, None, 0, 3]

for i, (pn, g) in enumerate(zip(panels, geom)):
    left, right, x0p, top, bot, y1p, y0p, rtop, rbot, ttl, l0, l1, tx = g
    xa, ya = f"x{4 + 2 * i}", f"y{4 + 2 * i}"
    xr, yr = f"x{5 + 2 * i}", f"y{5 + 2 * i}"
    for key, col, early in (("low", NAVY, censor_low_early), ("high", RED, censor_high_early)):
        t, s, c = pn[key]
        px_, py_ = km_path(t, s)
        fig.add_trace(go.Scatter(x=px_, y=py_, mode="lines", line=dict(color=col, width=2.6), xaxis=xa, yaxis=ya, hoverinfo="skip"))
        times = early + c
        fig.add_trace(go.Scatter(x=times, y=np.interp(times, px_, py_).tolist(), mode="markers",
                                 marker=dict(symbol="cross-thin", size=15, color=col, line=dict(color=col, width=2.2)), xaxis=xa, yaxis=ya))
    fig.add_trace(go.Scatter(x=mid_grid_x, y=mid_grid_y, mode="lines", line=dict(color=GRID, width=1.5), xaxis=xr, yaxis=yr, hoverinfo="skip"))
    for row_y, counts in ((2, pn["risk"][0]), (1, pn["risk"][1])):
        for tv, cnt in zip(risk_times, counts):
            annotations.append(dict(x=tv, y=row_y, xref=xr, yref=yr, text=str(cnt), showarrow=False, font=dict(size=23, family=FONT),
                                    xanchor="center", yanchor="middle", borderpad=0))
    kx = 54.65 / 1000
    ky = y0p - y1p
    box = dict(showline=True, linecolor="black", linewidth=3, mirror=True, zeroline=False, showgrid=False,
               ticks="outside", ticklen=10, tickwidth=2.5, automargin=False)
    layout[f"xaxis{4 + 2 * i}"] = dict(domain=[X(left), X(right)], range=[(left - x0p) / kx, (right - x0p) / kx], tickvals=[0, 2000, 4000, 6000],
                                       tickfont=dict(size=24.5), title=dict(text="Time (days)", font=dict(size=26), standoff=9), anchor=ya, **box)
    layout[f"yaxis{4 + 2 * i}"] = dict(domain=[Y(bot), Y(top)], range=[(y0p - bot) / ky, (y0p - top) / ky], tickvals=[0, 0.2, 0.4, 0.6, 0.8, 1.0],
                                       tickformat=".1f", tickfont=dict(size=24.5), title=dict(text="Overall Survival", font=dict(size=26), standoff=10), anchor=xa, **box)
    low_px = rtop + (rbot - rtop) * 0.28
    high_px = rtop + (rbot - rtop) * 0.735
    kyr = high_px - low_px
    layout[f"xaxis{5 + 2 * i}"] = dict(domain=[X(left), X(right)], range=[-0.196, 4.2], tickvals=risk_times, showticklabels=False,
                                       showline=True, linecolor="black", linewidth=3, mirror=True, zeroline=False, showgrid=True,
                                       gridcolor=GRID, gridwidth=4, ticks="", anchor=yr, automargin=False)
    layout[f"yaxis{5 + 2 * i}"] = dict(domain=[Y(rbot), Y(rtop)], range=[1 - (rbot - high_px) / kyr, 2 + (low_px - rtop) / kyr], tickvals=[1, 2],
                                       showticklabels=False, ticks="outside", ticklen=10, tickwidth=2.5, showline=True, linecolor="black",
                                       linewidth=3, mirror=True, zeroline=False, showgrid=True, gridcolor=GRID, gridwidth=3.5,
                                       anchor=xr, automargin=False)
    text(left - 19, low_px - 1.5, "Low", 23, "right", NAVY)
    text(left - 19, high_px - 1.5, "High", 23, "right", RED)
    # inside-panel legend and statistics
    text(ttl, top + 17, pn["gene"], 19.5)
    for dy, name, col in [(46.7, "Low", NAVY), (78, "High", RED)]:
        ly = top + dy
        shapes.append(dict(type="line", xref="paper", yref="paper", x0=X(l0), x1=X(l1), y0=Y(ly), y1=Y(ly), line=dict(color=col, width=3.2)))
        shapes.append(dict(type="line", xref="paper", yref="paper", x0=X((l0 + l1) / 2), x1=X((l0 + l1) / 2), y0=Y(ly - 8.5), y1=Y(ly + 8.5), line=dict(color=col, width=2.2)))
        text(tx, ly, name, 19)
    text(left + 12, y0p - 36.8, pn["hr"], 15.7)
    text(left + 12, y0p - 8.3, pn["p"], 15.7)

layout["annotations"] = annotations
layout["shapes"] = shapes
fig.update_layout(**layout)
fig.write_html("out.html", post_script="document.body.style.margin='0';", config={"displayModeBar": False})
